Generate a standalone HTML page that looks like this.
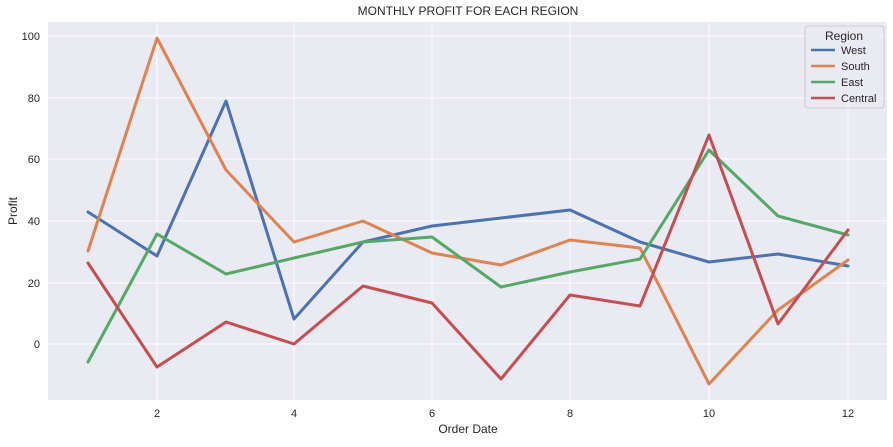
<!DOCTYPE html>
<html><head><style>body{margin:0;background:#fff}</style></head><body>
<svg width="893" height="442" xmlns="http://www.w3.org/2000/svg" font-family="Liberation Sans, DejaVu Sans, sans-serif">
<rect width="893" height="442" fill="#fff"/>
<rect x="48" y="22" width="839" height="378" fill="#eaeaf2"/>
<g stroke="#fff" stroke-width="1">
<line x1="157" y1="22" x2="157" y2="400"/><line x1="294" y1="22" x2="294" y2="400"/><line x1="432" y1="22" x2="432" y2="400"/><line x1="570" y1="22" x2="570" y2="400"/><line x1="709" y1="22" x2="709" y2="400"/><line x1="848" y1="22" x2="848" y2="400"/>
<line x1="48" y1="344" x2="887" y2="344"/><line x1="48" y1="283" x2="887" y2="283"/><line x1="48" y1="221" x2="887" y2="221"/><line x1="48" y1="159" x2="887" y2="159"/><line x1="48" y1="98" x2="887" y2="98"/><line x1="48" y1="36" x2="887" y2="36"/>
</g>
<g fill="none" stroke-width="3" stroke-linejoin="round" stroke-linecap="round">
<polyline stroke="#4c72b0" points="88,212 157,256 226,101 294,319 363,242 432,226 501,218 570,210 640,242 709,262 778,254 848,266"/>
<polyline stroke="#dd8452" points="88,251 157,38 226,170 294,242 363,221 432,253 501,265 570,240 640,248 709,384 778,310 848,260"/>
<polyline stroke="#55a868" points="88,362 157,234 226,274 294,258 363,242 432,237 501,287 570,272 640,259 709,150 778,216 848,235"/>
<polyline stroke="#c44e52" points="88,263 157,367 226,322 294,344 363,286 432,303 501,379 570,295 640,306 709,135 778,324 848,230"/>
</g>
<g font-size="11" fill="#262626" text-anchor="middle">
<text x="157" y="417">2</text><text x="294" y="417">4</text><text x="432" y="417">6</text><text x="570" y="417">8</text><text x="709" y="417">10</text><text x="848" y="417">12</text>
</g>
<g font-size="11" fill="#262626" text-anchor="end">
<text x="40" y="348">0</text><text x="40" y="287">20</text><text x="40" y="225">40</text><text x="40" y="163">60</text><text x="40" y="102">80</text><text x="40" y="40">100</text>
</g>
<text x="468" y="433" font-size="12" fill="#262626" text-anchor="middle">Order Date</text>
<text x="17" y="211" font-size="12" fill="#262626" text-anchor="middle" transform="rotate(-90 17 211)">Profit</text>
<text x="468" y="15" font-size="12" fill="#262626" text-anchor="middle">MONTHLY PROFIT FOR EACH REGION</text>
<rect x="805" y="26" width="79" height="82" rx="3" fill="#eaeaf2" fill-opacity="0.8" stroke="#ccc"/>
<text x="844" y="40" font-size="12" fill="#262626" text-anchor="middle">Region</text>
<g stroke-width="2.5">
<line x1="811" y1="50" x2="835" y2="50" stroke="#4c72b0"/><line x1="811" y1="66" x2="835" y2="66" stroke="#dd8452"/><line x1="811" y1="82" x2="835" y2="82" stroke="#55a868"/><line x1="811" y1="98" x2="835" y2="98" stroke="#c44e52"/>
</g>
<g font-size="11" fill="#262626">
<text x="841" y="54">West</text><text x="841" y="70">South</text><text x="841" y="86">East</text><text x="841" y="102">Central</text>
</g>
</svg>
</body></html>
